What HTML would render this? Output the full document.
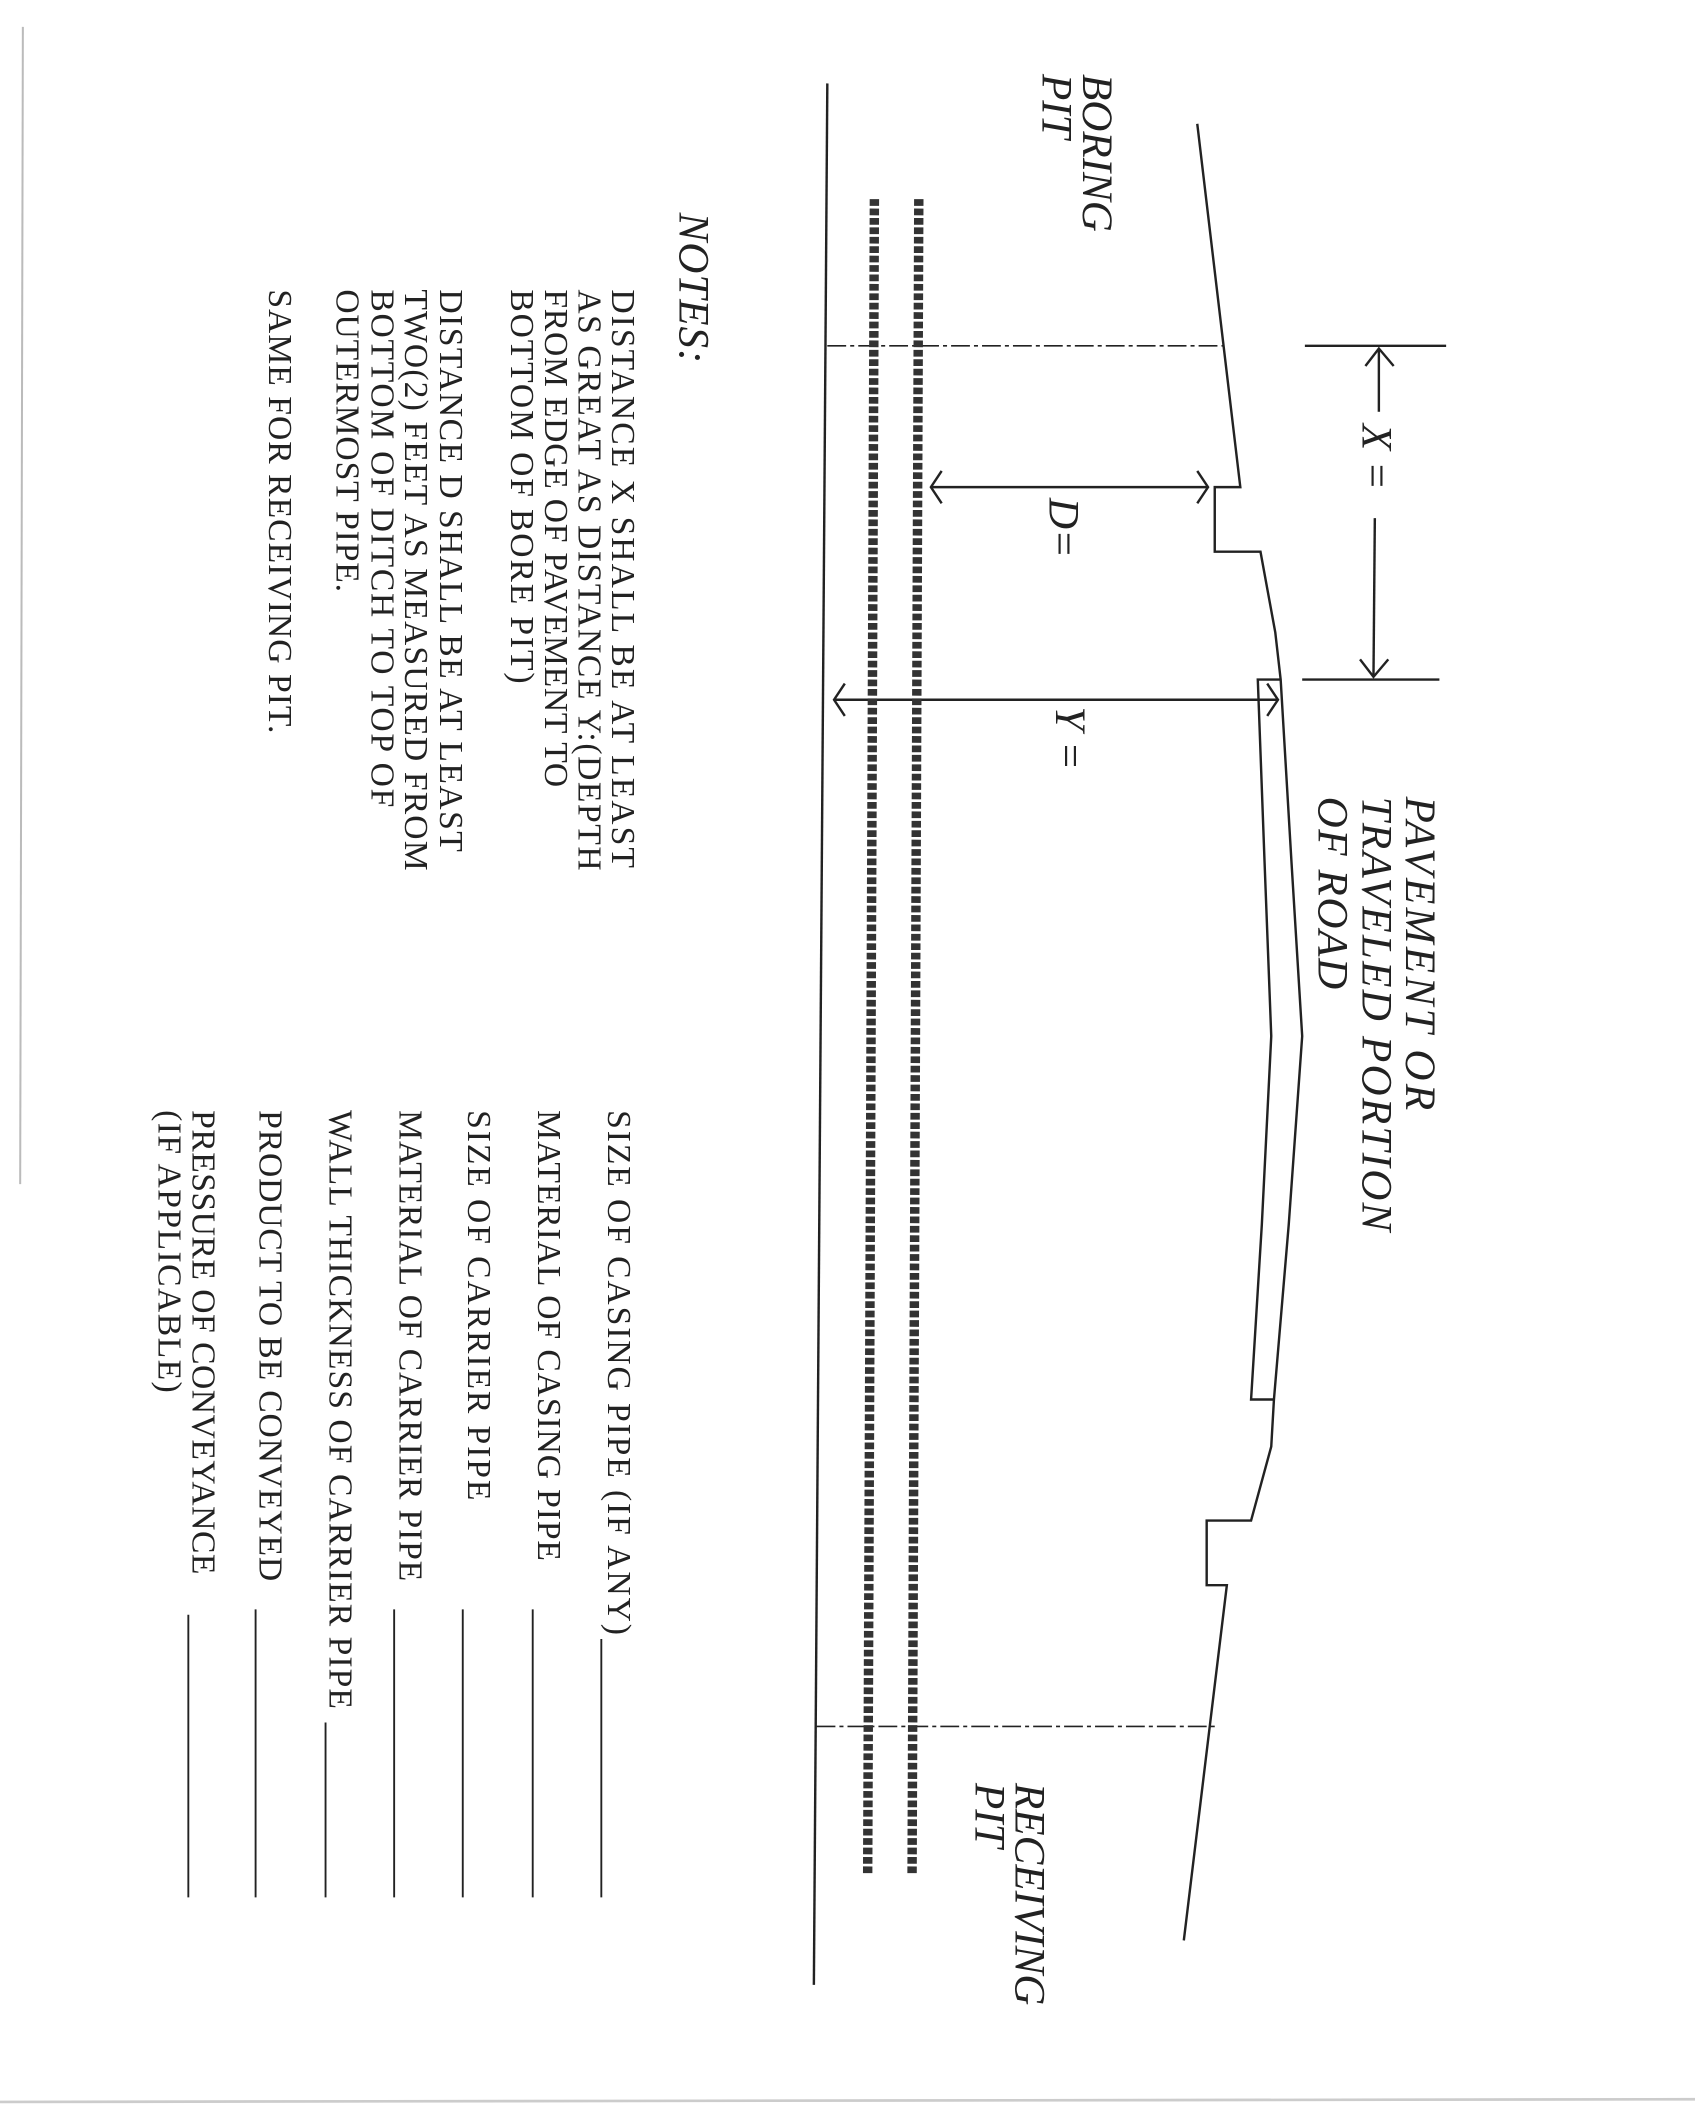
<!DOCTYPE html>
<html><head><meta charset="utf-8"><style>
html,body{margin:0;padding:0;background:#fff;}
svg{display:block;}
.n{font-family:"Liberation Serif",serif;font-size:25px;fill:#222;}
.i{font-family:"Liberation Serif",serif;font-style:italic;font-size:32px;fill:#222;}
</style></head><body>
<svg width="1695" height="2110" viewBox="0 0 1260 1568" preserveAspectRatio="none" xmlns="http://www.w3.org/2000/svg">
<rect width="1260" height="1568" fill="#fff"/>
<line x1="17" y1="20" x2="15" y2="880" stroke="#bbb" stroke-width="1.5"/>
<line x1="0" y1="1562" x2="1260" y2="1560" stroke="#ccc" stroke-width="2"/>
<g stroke="#222" fill="none" stroke-width="1.8">
<line x1="615" y1="62" x2="605" y2="1475"/>
<line x1="615" y1="257" x2="910" y2="257" stroke-dasharray="14 3 3 3" stroke-width="1.2"/>
<line x1="607" y1="1283" x2="905" y2="1283" stroke-dasharray="14 3 3 3" stroke-width="1.2"/>
<polyline points="890,92 922,362 903,362 903,410 937,410 948,470 952,505 960,640 968,770 958,910 947,1040 945,1075 930,1130 897,1130 897,1178 912,1178 880,1442"/>
<polyline points="952,505 935,505 940,640 945,770 938,910 930,1040 947,1040"/>
<line x1="970" y1="257" x2="1075" y2="257"/>
<line x1="968" y1="505" x2="1070" y2="505"/>
<line x1="1025" y1="259" x2="1025" y2="306"/>
<line x1="1022" y1="385" x2="1021" y2="502"/>
<polyline points="1015,272 1025,259 1036,272"/>
<polyline points="1011,490 1021,503 1032,490"/>
<line x1="692" y1="362" x2="898" y2="362"/>
<polyline points="700,350 692,362 700,374"/>
<polyline points="890,350 898,362 890,374"/>
<line x1="620" y1="520" x2="950" y2="520"/>
<polyline points="628,508 620,520 628,532"/>
<polyline points="942,508 950,520 942,532"/>
<line x1="447" y1="1218" x2="447" y2="1410" stroke-width="1.4"/>
<line x1="396" y1="1196" x2="396" y2="1410" stroke-width="1.4"/>
<line x1="344" y1="1196" x2="344" y2="1410" stroke-width="1.4"/>
<line x1="293" y1="1196" x2="293" y2="1410" stroke-width="1.4"/>
<line x1="242" y1="1280" x2="242" y2="1410" stroke-width="1.4"/>
<line x1="190" y1="1196" x2="190" y2="1410" stroke-width="1.4"/>
<line x1="140" y1="1200" x2="140" y2="1410" stroke-width="1.4"/>
</g>
<line x1="650" y1="148" x2="645" y2="1392" stroke="#333" stroke-width="7" stroke-dasharray="5 2"/>
<line x1="683" y1="148" x2="678" y2="1392" stroke="#333" stroke-width="7" stroke-dasharray="5 2"/>
<g class="i">
<text transform="translate(805,55) rotate(90)">BORING</text>
<text transform="translate(775,55) rotate(90)">PIT</text>
<text transform="translate(755,1325) rotate(90)">RECEIVING</text>
<text transform="translate(725,1325) rotate(90)">PIT</text>
<text transform="translate(1045,592) rotate(90)" textLength="233">PAVEMENT OR</text>
<text transform="translate(1013,592) rotate(90)" textLength="323">TRAVELED PORTION</text>
<text transform="translate(980,592) rotate(90)" textLength="143">OF ROAD</text>
<text transform="translate(1013,315) rotate(90)">X =</text>
<text transform="translate(780,370) rotate(90)">D=</text>
<text transform="translate(785,525) rotate(90)">Y =</text>
<text transform="translate(505,158) rotate(90)" textLength="112">NOTES:</text>
</g>
<g class="n">
<text transform="translate(455,215) rotate(90)" textLength="430" lengthAdjust="spacing">DISTANCE X SHALL BE AT LEAST</text>
<text transform="translate(430,215) rotate(90)" textLength="432" lengthAdjust="spacing">AS GREAT AS DISTANCE Y:(DEPTH</text>
<text transform="translate(405,215) rotate(90)" textLength="370" lengthAdjust="spacing">FROM EDGE OF PAVEMENT TO</text>
<text transform="translate(380,215) rotate(90)" textLength="293" lengthAdjust="spacing">BOTTOM OF BORE PIT)</text>
<text transform="translate(327,215) rotate(90)" textLength="418" lengthAdjust="spacing">DISTANCE D SHALL BE AT LEAST</text>
<text transform="translate(301,215) rotate(90)" textLength="432" lengthAdjust="spacing">TWO(2) FEET AS MEASURED FROM</text>
<text transform="translate(276,215) rotate(90)" textLength="385" lengthAdjust="spacing">BOTTOM OF DITCH TO TOP OF</text>
<text transform="translate(250,215) rotate(90)" textLength="225" lengthAdjust="spacing">OUTERMOST PIPE.</text>
<text transform="translate(200,215) rotate(90)" textLength="330" lengthAdjust="spacing">SAME FOR RECEIVING PIT.</text>
<text transform="translate(452,825) rotate(90)" textLength="390" lengthAdjust="spacing">SIZE OF CASING PIPE (IF ANY)</text>
<text transform="translate(400,825) rotate(90)" textLength="335" lengthAdjust="spacing">MATERIAL OF CASING PIPE</text>
<text transform="translate(348,825) rotate(90)" textLength="290" lengthAdjust="spacing">SIZE OF CARRIER PIPE</text>
<text transform="translate(297,825) rotate(90)" textLength="350" lengthAdjust="spacing">MATERIAL OF CARRIER PIPE</text>
<text transform="translate(245,825) rotate(90)" textLength="445" lengthAdjust="spacing">WALL THICKNESS OF CARRIER PIPE</text>
<text transform="translate(193,825) rotate(90)" textLength="350" lengthAdjust="spacing">PRODUCT TO BE CONVEYED</text>
<text transform="translate(143,825) rotate(90)" textLength="345" lengthAdjust="spacing">PRESSURE OF CONVEYANCE</text>
<text transform="translate(118,825) rotate(90)" textLength="210" lengthAdjust="spacing">(IF APPLICABLE)</text>
</g>
</svg>
</body></html>
